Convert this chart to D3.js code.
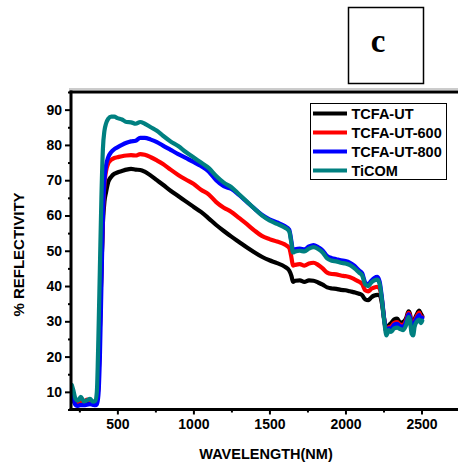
<!DOCTYPE html>
<html>
<head>
<meta charset="utf-8">
<script src="https://cdn.jsdelivr.net/npm/d3@7"></script>
<style>
  html, body { margin: 0; padding: 0; background: #fff; }
  svg { display: block; }
  text { font-family: "Liberation Sans", Arial, sans-serif; font-weight: bold; fill: #000; }
</style>
</head>
<body>
<svg id="chart" width="458" height="467"></svg>
<script>
// ---- data ----
const wavelength = [200,210,225,240,260,280,300,320,340,355,365,375,385,395,405,415,425,440,460,480,500,530,560,590,620,650,680,720,760,800,850,900,950,1000,1050,1100,1150,1200,1250,1300,1350,1400,1450,1500,1550,1600,1630,1645,1655,1670,1700,1730,1760,1790,1820,1850,1880,1910,1940,1970,2000,2030,2060,2090,2110,2130,2150,2170,2190,2210,2225,2240,2255,2270,2285,2300,2320,2340,2360,2380,2400,2415,2425,2435,2445,2455,2470,2485,2495,2505];

const tcfaUT = [9.5,8,6.5,6.5,7.2,6.8,7.0,7.0,6.8,6.7,7.5,12,28,45,58,64,66.5,69.5,71,71.8,72.2,72.6,73.0,73.2,73.0,72.9,72.4,71.3,70.0,68.7,67.0,65.5,64.0,62.5,61.0,59.2,57.3,55.6,54.0,52.5,51.0,49.6,48.3,47.3,46.5,45.5,44.4,42.8,41.2,41.5,41.6,41.2,41.6,41.5,41.0,40.4,39.6,39.3,39.2,38.9,38.8,38.5,38.2,37.8,37.4,36.2,36.0,36.8,37.3,37.5,37.3,35,30.5,27.5,28.8,29.5,30.5,30.8,29.6,29.8,31.0,32.8,32.0,29.0,28.5,30.5,32.0,33.0,32.2,31.5];

const tcfaUT600 = [10,8.5,6.8,7.0,7.5,7.0,7.8,7.5,7.0,6.8,7.5,12,28,45,60,69,72.5,74.8,75.8,76.3,76.5,76.8,77.0,77.1,77.0,77.4,77.2,76.5,75.6,74.6,73.0,71.5,70.2,69.0,67.3,66.0,63.8,62.2,61.0,59.3,57.6,55.8,54.2,53.3,52.6,51.8,50.8,48,45.8,46.0,46.2,45.8,46.4,46.6,46.0,45.0,43.8,43.4,43.3,43.0,42.8,42.5,41.9,41.2,40.6,38.8,38.5,39.2,39.6,39.8,39.2,36,30.5,27.0,28.3,28.5,29.5,29.8,29.0,29.0,30.5,32.4,31.5,28.5,28.0,30.0,31.5,32.5,31.5,31.2];

const tcfaUT800 = [9.5,8,6.3,6.0,6.3,6.2,6.4,6.5,6.3,6.2,6.5,9,20,40,60,70,74,76.5,78,78.8,79.3,80,80.6,81.0,81.2,82.0,82.0,81.5,80.8,79.8,78.6,77.4,76.3,75.2,74.0,72.5,70.0,68.3,67.5,65.8,63.9,62.0,60.2,58.9,58.0,57.0,56.0,52.5,50,50.4,50.6,50.4,51.2,51.6,51.0,50.1,48.5,47.9,47.6,47.3,47.1,46.6,45.7,44.4,43.6,41.0,40.5,41.5,42.3,42.6,41.2,36.5,30.5,27.0,28.0,28.0,29.0,29.3,28.6,28.5,30.0,32.0,31.0,28.0,27.5,29.5,31.0,31.8,30.8,31.0];

const tiCOM = [12.0,10.5,8.0,7.5,8.6,7.3,7.6,8.0,7.2,7.5,10,25,45,65,79,84,86,87.4,88,88,87.6,87.2,86.5,86.4,86.0,86.5,86.0,85.0,84.0,82.6,81.0,79.7,78.0,76.5,75.0,73.5,71.2,69.3,68.0,66.0,64.0,62.0,60.0,58.6,57.6,56.6,55.5,52,49.5,49.8,50.0,49.8,50.6,51.0,50.5,49.5,47.8,47.2,47.0,46.6,46.4,45.9,45.0,43.8,43.0,40.5,40.0,41.0,41.6,41.8,40.5,36,30,26.0,27.5,27.0,28.0,28.2,27.8,27.5,29.0,31.2,30.0,26.5,26.0,28.5,30.0,30.5,29.5,30.2];

const seriesNames = ["TCFA-UT", "TCFA-UT-600", "TCFA-UT-800", "TiCOM"];
const seriesColors = ["#000000", "#ff0000", "#0000ff", "#008080"];
const seriesValues = [tcfaUT, tcfaUT600, tcfaUT800, tiCOM];

const xTicks = [500, 1000, 1500, 2000, 2500];
const xMinorTicks = [250, 750, 1250, 1750, 2250];
const yTicks = [10, 20, 30, 40, 50, 60, 70, 80, 90];
const yMinorTicks = [5, 15, 25, 35, 45, 55, 65, 75, 85, 95];
const xTitle = "WAVELENGTH(NM)";
const yTitle = "% REFLECTIVITY";
const panelLabel = "c";

// ---- layout ----
const svg = d3.select("#chart");
const L = 71, R = 459.5, T = 92, B = 409.5;
const x = d3.scaleLinear().domain([195, 2750]).range([L, R]);
const y = d3.scaleLinear().domain([5, 95]).range([B, T]);

// thin gray line above frame
svg.append("line").attr("x1", 69).attr("x2", 458).attr("y1", 89).attr("y2", 89)
  .attr("stroke", "#999").attr("stroke-width", 1);

// series
const clip = svg.append("clipPath").attr("id", "clip").append("rect")
  .attr("x", L).attr("y", T).attr("width", R - L).attr("height", B - T);
const line = d3.line().x(d => x(d[0])).y(d => y(d[1])).curve(d3.curveMonotoneX);
const g = svg.append("g").attr("clip-path", "url(#clip)");
seriesValues.forEach((vals, i) => {
  g.append("path")
    .datum(wavelength.map((w, j) => [w, vals[j]]))
    .attr("d", line)
    .attr("fill", "none")
    .attr("stroke", seriesColors[i])
    .attr("stroke-width", 4.2)
    .attr("stroke-linejoin", "round")
    .attr("stroke-linecap", "round");
});

// axes
const xAxis = svg.append("g").attr("transform", `translate(0,${B})`)
  .call(d3.axisBottom(x).tickValues(xTicks).tickSize(5).tickPadding(5).tickFormat(d3.format("d")));
const xMinor = svg.append("g").attr("transform", `translate(0,${B})`)
  .call(d3.axisBottom(x).tickValues(xMinorTicks).tickSize(3).tickFormat(""));
const yAxis = svg.append("g").attr("transform", `translate(${L},0)`)
  .call(d3.axisLeft(y).tickValues(yTicks).tickSize(6).tickPadding(3));
const yMinor = svg.append("g").attr("transform", `translate(${L},0)`)
  .call(d3.axisLeft(y).tickValues(yMinorTicks).tickSize(3).tickFormat(""));

[xAxis, xMinor, yAxis, yMinor].forEach(a => {
  a.select(".domain").remove();
  a.selectAll(".tick line").attr("stroke", "#000").attr("stroke-width", 2);
  a.selectAll("text").attr("font-size", 14).attr("font-weight", "bold")
    .attr("font-family", "Liberation Sans, Arial, sans-serif").attr("fill", "#000");
});

// frame lines (left, bottom, top)
svg.append("line").attr("x1", L).attr("x2", L).attr("y1", T - 1.5).attr("y2", B + 1.5)
  .attr("stroke", "#000").attr("stroke-width", 3);
svg.append("line").attr("x1", L - 1.5).attr("x2", 458).attr("y1", B).attr("y2", B)
  .attr("stroke", "#000").attr("stroke-width", 3);
svg.append("line").attr("x1", L - 1.5).attr("x2", 458).attr("y1", T).attr("y2", T)
  .attr("stroke", "#000").attr("stroke-width", 3);

// axis titles
svg.append("text").attr("x", 266).attr("y", 459).attr("text-anchor", "middle")
  .attr("font-size", 14.5).text(xTitle);
svg.append("text").attr("transform", "translate(23.5,254.5) rotate(-90)")
  .attr("text-anchor", "middle").attr("font-size", 15).text(yTitle);

// legend
const lg = svg.append("g");
lg.append("rect").attr("x", 310.5).attr("y", 103.5).attr("width", 136).attr("height", 76)
  .attr("fill", "#fff").attr("stroke", "#000").attr("stroke-width", 1);
seriesNames.forEach((name, i) => {
  const cy = 113.5 + i * 19;
  lg.append("line").attr("x1", 313).attr("x2", 347).attr("y1", cy).attr("y2", cy)
    .attr("stroke", seriesColors[i]).attr("stroke-width", 4);
  lg.append("text").attr("x", 351.5).attr("y", cy + 5).attr("font-size", 14.5).text(name);
});

// panel label box
svg.append("rect").attr("x", 348.5).attr("y", 7.5).attr("width", 75).attr("height", 76)
  .attr("fill", "none").attr("stroke", "#000").attr("stroke-width", 1.5);
svg.append("text").attr("x", 378).attr("y", 52).attr("text-anchor", "middle")
  .style("font-family", "'Liberation Serif', 'Times New Roman', serif")
  .attr("font-size", 33).text(panelLabel);
</script>
</body>
</html>
